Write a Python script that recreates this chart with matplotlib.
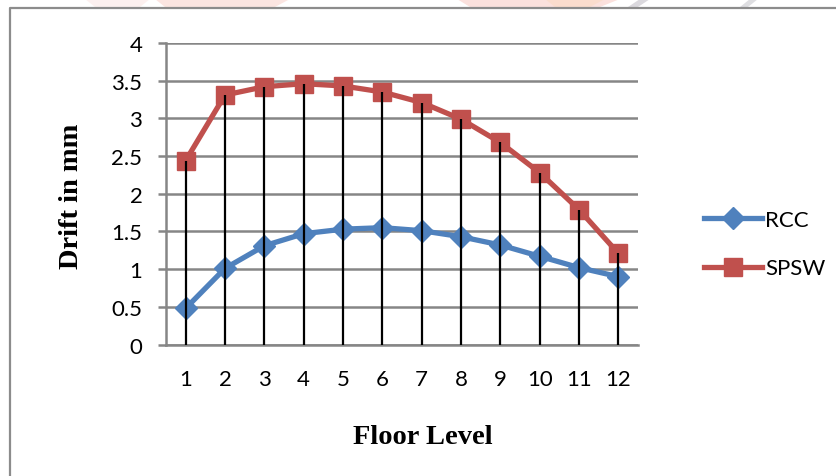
import matplotlib
matplotlib.use("Agg")

import matplotlib.pyplot as plt
from matplotlib.patches import Polygon
from matplotlib.lines import Line2D

floors = [1, 2, 3, 4, 5, 6, 7, 8, 9, 10, 11, 12]
rcc = [0.48, 1.01, 1.31, 1.47, 1.53, 1.55, 1.51, 1.43, 1.32, 1.17, 1.02, 0.90]
spsw = [2.44, 3.31, 3.42, 3.46, 3.43, 3.35, 3.21, 2.99, 2.68, 2.28, 1.79, 1.21]
y_ticks = [0, 0.5, 1, 1.5, 2, 2.5, 3, 3.5, 4]
y_tick_labels = ["0", "0.5", "1", "1.5", "2", "2.5", "3", "3.5", "4"]

BLUE = "#4F81BD"
RED = "#C0504D"
GRID = "#868686"
W, H = 837, 477
TICK_FONT = "Lato"

fig = plt.figure(figsize=(W / 100, H / 100), dpi=100)
fig.patch.set_facecolor("white")


def fx(px):
    return px / W


def fy(py):
    return 1 - py / H


# faded banner artwork peeking in along the top edge
banner = [
    ([(85, 0), (150, 0), (140, 8), (95, 8)], "#FBE3E0", 0.5),
    ([(155, 0), (290, 0), (275, 8), (165, 8)], "#F8C6BE", 0.45),
    ([(457, 0), (620, 0), (600, 8), (470, 8)], "#F7BDB4", 0.45),
    ([(545, 0), (605, 0), (590, 8), (555, 8)], "#F9D6B5", 0.4),
    ([(640, 0), (650, 0), (638, 8), (628, 8)], "#C4C1C8", 0.6),
    ([(750, 0), (758, 0), (748, 8), (740, 8)], "#C8C8CE", 0.6),
]
for pts, col, a in banner:
    fig.patches.append(Polygon([(fx(x), fy(y)) for x, y in pts], closed=True,
                               transform=fig.transFigure, facecolor=col,
                               edgecolor="none", alpha=a, zorder=0))

# chart area border (left and top edges visible)
fig.lines.append(Line2D([fx(10.5), fx(10.5), fx(W + 5)], [fy(H + 5), fy(8.5), fy(8.5)],
                        transform=fig.transFigure, color="#8C8C8C", lw=1.6, zorder=1))

left, right, top, bottom = 166, 638, 44, 345.5
ax = fig.add_axes([fx(left), fy(bottom), fx(right - left), (bottom - top) / H])
ax.set_facecolor("none")

ax.set_xlim(0.5, 12.5)
ax.set_ylim(0, 4)
ax.set_yticks(y_ticks)
ax.set_yticklabels(y_tick_labels)
ax.set_xticks(floors)
ax.set_xticklabels([str(f) for f in floors])

ax.grid(axis="y", color=GRID, lw=1.8, zorder=0)
ax.set_axisbelow(True)
for side in ["top", "right"]:
    ax.spines[side].set_visible(False)
for side in ["left", "bottom"]:
    ax.spines[side].set_color(GRID)
    ax.spines[side].set_linewidth(1.8)

ax.tick_params(axis="y", length=6, width=1.8, color=GRID, pad=11,
               labelsize=16, labelfontfamily=TICK_FONT)
ax.tick_params(axis="x", length=0, pad=18, labelsize=16, labelfontfamily=TICK_FONT)

ax.plot(floors, rcc, color=BLUE, lw=3.8, marker="D", markersize=11,
        markeredgecolor=BLUE, label="RCC", zorder=3)
ax.plot(floors, spsw, color=RED, lw=3.8, marker="s", markersize=12.5,
        markeredgecolor=RED, label="SPSW", zorder=3)

# drop lines from the upper series down to the category axis
tops = [max(a, b) for a, b in zip(rcc, spsw)]
ax.vlines(floors, 0, tops, color="black", lw=1.6, zorder=4)

fig.text(fx(72), fy(196), "Drift in mm", rotation=90, ha="center", va="center",
         fontsize=20.5, fontweight="bold", family="Liberation Serif")
fig.text(fx(423), fy(438), "Floor Level", ha="center", va="center",
         fontsize=20.5, fontweight="bold", family="Liberation Serif")

leg = fig.legend(loc="center left", bbox_to_anchor=(fx(695), fy(245)),
                 frameon=False, handlelength=2.6, handletextpad=0.15,
                 labelspacing=1.3, borderaxespad=0,
                 prop={"family": TICK_FONT, "size": 16})

fig.savefig("out.png", dpi=100)
